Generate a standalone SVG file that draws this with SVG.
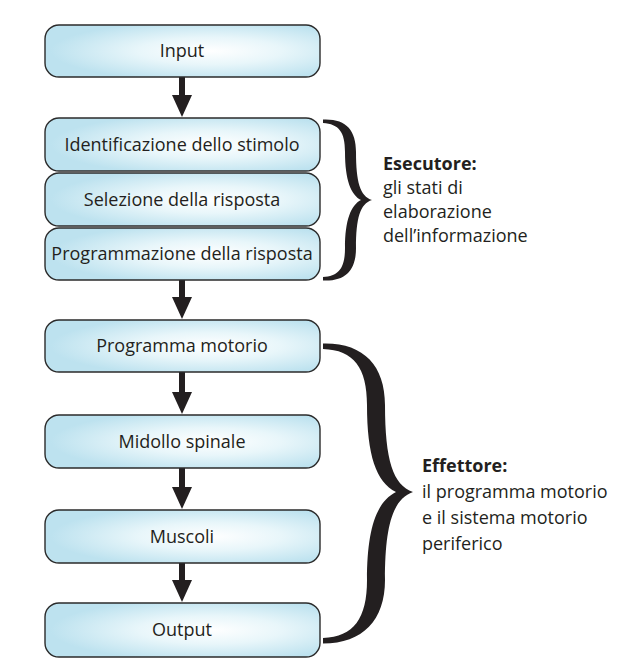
<svg xmlns="http://www.w3.org/2000/svg" width="633" height="669" viewBox="0 0 633 669">
  <style>
    .box { fill: url(#boxGrad); stroke: #2b2b2b; stroke-width: 1.4; }
    .lbl { font-family: "Open Sans", "Liberation Sans", sans-serif; font-size: 18px; fill: #231f20; text-anchor: middle; }
    .side { font-family: "Open Sans", "Liberation Sans", sans-serif; font-size: 18px; fill: #231f20; }
    .side .b { font-weight: bold; }
    .conn { stroke: #231f20; stroke-width: 6; fill: none; marker-end: url(#head); }
    .brace { fill: #231f20; }
  </style>
  <defs>
    <radialGradient id="boxGrad" cx="0.6" cy="0.5" r="0.58">
      <stop offset="0" stop-color="#ffffff"/>
      <stop offset="0.45" stop-color="#e8f6fa"/>
      <stop offset="1" stop-color="#bde2ef"/>
    </radialGradient>
    <marker id="head" markerUnits="userSpaceOnUse" markerWidth="22" markerHeight="20" viewBox="0 0 22 20" refX="2" refY="10" orient="auto">
      <path d="M0,0 L22,10 L0,20 Z" fill="#231f20"/>
    </marker>
  </defs>

  <g id="connectors">
    <line class="conn" x1="182" y1="77" x2="182" y2="97"/>
    <line class="conn" x1="182" y1="280" x2="182" y2="299"/>
    <line class="conn" x1="182" y1="372" x2="182" y2="394"/>
    <line class="conn" x1="182" y1="468" x2="182" y2="489"/>
    <line class="conn" x1="182" y1="563" x2="182" y2="582"/>
  </g>

  <g id="input">
    <rect class="box" x="45" y="25" width="275" height="52" rx="14"/>
    <text class="lbl" x="182" y="57">Input</text>
  </g>
  <g id="identificazione">
    <rect class="box" x="45" y="118" width="275" height="53" rx="14"/>
    <text class="lbl" x="182" y="150.5">Identificazione dello stimolo</text>
  </g>
  <g id="selezione">
    <rect class="box" x="45" y="173" width="275" height="53" rx="14"/>
    <text class="lbl" x="182" y="205.5">Selezione della risposta</text>
  </g>
  <g id="programmazione">
    <rect class="box" x="45" y="228" width="275" height="52" rx="14"/>
    <text class="lbl" x="182" y="260">Programmazione della risposta</text>
  </g>
  <g id="programma-motorio">
    <rect class="box" x="45" y="320" width="275" height="52" rx="14"/>
    <text class="lbl" x="182" y="352">Programma motorio</text>
  </g>
  <g id="midollo">
    <rect class="box" x="45" y="415" width="275" height="53" rx="14"/>
    <text class="lbl" x="182" y="447.5">Midollo spinale</text>
  </g>
  <g id="muscoli">
    <rect class="box" x="45" y="510" width="275" height="53" rx="14"/>
    <text class="lbl" x="182" y="542.5">Muscoli</text>
  </g>
  <g id="output">
    <rect class="box" x="45" y="603" width="275" height="54" rx="14"/>
    <text class="lbl" x="182" y="636">Output</text>
  </g>

  <g id="esecutore">
    <path class="brace" d="M323,119.5 C346,118.5 356,130 356,152 C356,182 360,196 372,200 C360,204 356,218 356,248 C356,270 346,281.5 323,280.5 L323,277 C339,276 345,268 345,248 C345,220 351,205 361,200 C351,195 345,180 345,152 C345,132 339,124 323,123 Z"/>
    <text class="side" x="383">
      <tspan class="b" x="383" y="170">Esecutore:</tspan>
      <tspan x="383" y="194">gli stati di</tspan>
      <tspan x="383" y="218">elaborazione</tspan>
      <tspan x="383" y="242">dell’informazione</tspan>
    </text>
  </g>

  <g id="effettore">
    <path class="brace" d="M323,343.5 C363,342.5 385,365 385,405 C385,460 393,485 413,492 C393,499 385,525 385,580 C385,620 363,643.5 323,643.5 L323,638 C354,637 367,618 367,580 C367,530 376,502 396,492 C376,482 367,455 367,405 C367,368 354,350 323,349 Z"/>
    <text class="side" x="422">
      <tspan class="b" x="422" y="472">Effettore:</tspan>
      <tspan x="422" y="498">il programma motorio</tspan>
      <tspan x="422" y="524">e il sistema motorio</tspan>
      <tspan x="422" y="550">periferico</tspan>
    </text>
  </g>
</svg>
